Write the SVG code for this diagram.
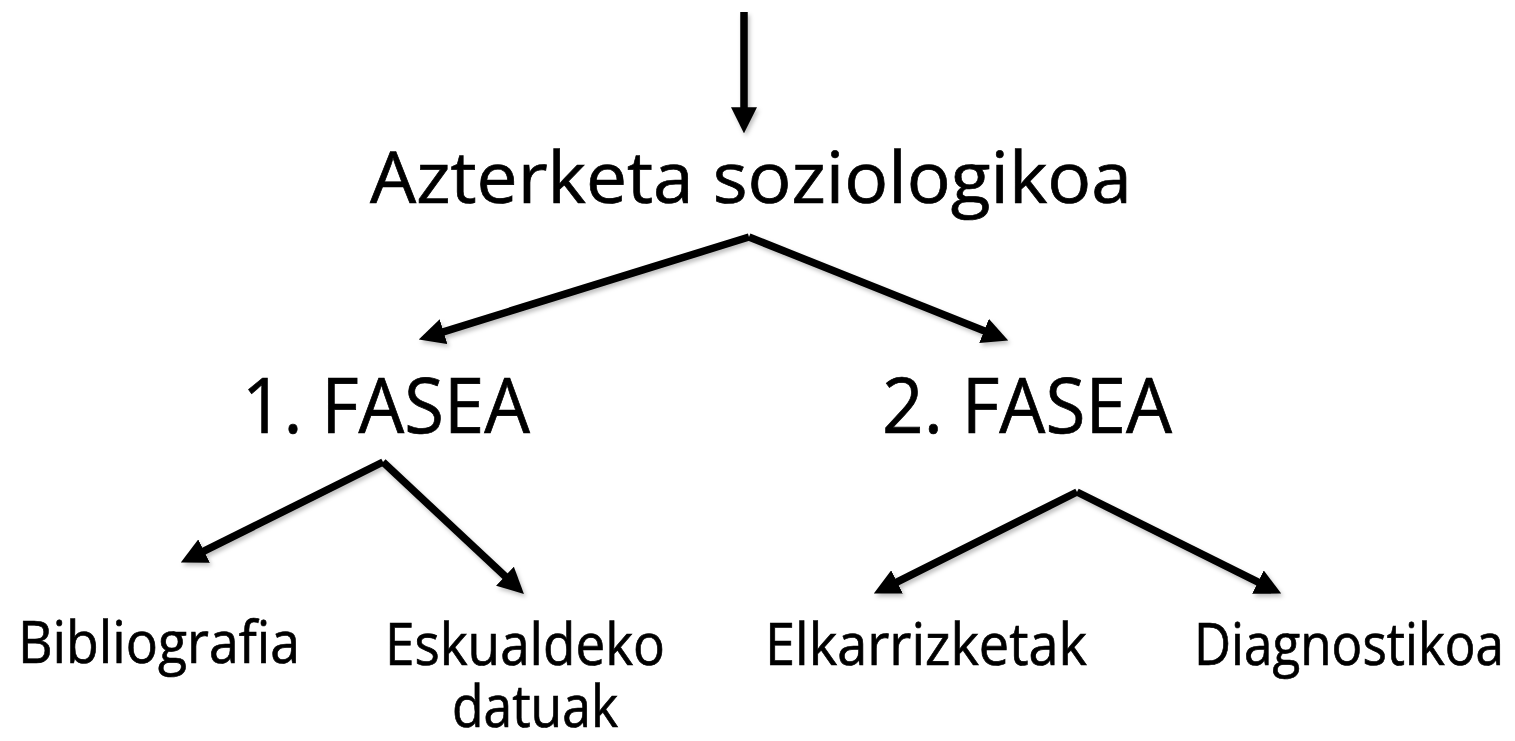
<svg xmlns="http://www.w3.org/2000/svg" width="1515" height="741" viewBox="0 0 1515 741">
<style>
text{font-family:"Open Sans","Noto Sans",sans-serif;fill:#000;stroke:#000;stroke-width:0.7}
.big{font-size:72px}
.mid{font-size:76px}
.small{font-size:58px}
.conn{stroke:#000;stroke-width:7.5;fill:none;marker-end:url(#ah)}
</style>
<defs>
<marker id="ah" markerUnits="userSpaceOnUse" markerWidth="26" markerHeight="26" viewBox="0 0 24 24" refX="8" refY="12" orient="auto">
<path d="M0,0 L24,12 L0,24 z" fill="#000"/>
</marker>
<filter id="sh" filterUnits="userSpaceOnUse" x="0" y="0" width="1515" height="741">
<feDropShadow dx="2" dy="3" stdDeviation="2" flood-color="#000" flood-opacity="0.25"/>
</filter>
</defs>
<rect width="1515" height="741" fill="#fff"/>
<g id="connectors" filter="url(#sh)">
<path class="conn" d="M744,12 L744,116"/>
<path class="conn" d="M749,237 L435.3,334.3"/>
<path class="conn" d="M749,237 L992.1,334.1"/>
<path class="conn" d="M383,462 L196.3,554.9"/>
<path class="conn" d="M383,462 L511.3,582.1"/>
<path class="conn" d="M1077,492 L889.3,585.8"/>
<path class="conn" d="M1077,492 L1265.7,585.9"/>
</g>
<g id="root"><text class="big" x="370" y="203" textLength="762" lengthAdjust="spacingAndGlyphs">Azterketa soziologikoa</text></g>
<g id="fase1"><text class="mid" x="242" y="433" textLength="288" lengthAdjust="spacingAndGlyphs">1. FASEA</text></g>
<g id="fase2"><text class="mid" x="882" y="433" textLength="290" lengthAdjust="spacingAndGlyphs">2. FASEA</text></g>
<g id="bibliografia"><text class="small" x="18" y="663" textLength="282" lengthAdjust="spacingAndGlyphs">Bibliografia</text></g>
<g id="eskualdeko"><text class="small" x="385" y="665" textLength="280" lengthAdjust="spacingAndGlyphs">Eskualdeko</text><text class="small" x="452" y="727" textLength="166" lengthAdjust="spacingAndGlyphs">datuak</text></g>
<g id="elkarrizketak"><text class="small" x="765" y="665" textLength="322" lengthAdjust="spacingAndGlyphs">Elkarrizketak</text></g>
<g id="diagnostikoa"><text class="small" x="1194" y="665" textLength="310" lengthAdjust="spacingAndGlyphs">Diagnostikoa</text></g>
</svg>
